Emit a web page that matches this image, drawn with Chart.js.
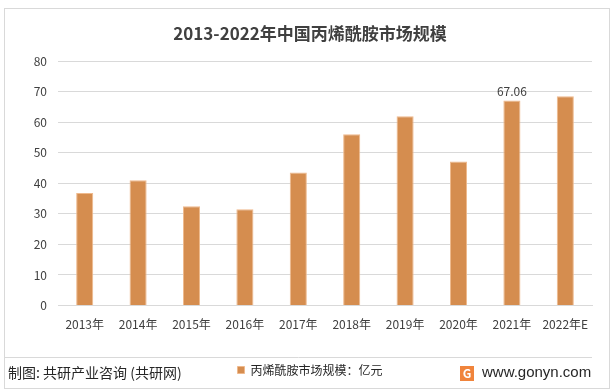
<!DOCTYPE html>
<html>
<head>
<meta charset="utf-8">
<script src="https://cdn.jsdelivr.net/npm/chart.js@4.4.0/dist/chart.umd.min.js"></script>
<style>
  html, body { margin: 0; padding: 0; background: #fff; }
  #wrap { position: relative; width: 614px; height: 392px; }
  #frame { position: absolute; left: 4px; top: 8px; width: 606px; height: 381px; border: 1px solid #d9d9d9; box-sizing: border-box; }
  canvas { position: absolute; left: 0; top: 0; }
</style>
</head>
<body>
<div id="wrap">
  <div id="frame"></div>
  <canvas id="chart" width="614" height="392"></canvas>
</div>
<script>
// Chart data
const years = ['2013年', '2014年', '2015年', '2016年', '2017年', '2018年', '2019年', '2020年', '2021年', '2022年E'];
const marketSize = [36.8, 41.0, 32.5, 31.5, 43.5, 56.0, 61.9, 47.1, 67.06, 68.5];
const labeledIndex = [8];
const seriesName = '丙烯酰胺市场规模：亿元';
const chartTitle = '2013-2022年中国丙烯酰胺市场规模';

const cjk = '"Noto Sans CJK SC", "Noto Sans", sans-serif';

// value label above selected bars
const valueLabels = {
  id: 'valueLabels',
  afterDatasetsDraw(chart) {
    const ctx = chart.ctx;
    const meta = chart.getDatasetMeta(0);
    ctx.save();
    ctx.font = '12px ' + cjk;
    ctx.fillStyle = '#404040';
    ctx.textAlign = 'center';
    ctx.textBaseline = 'bottom';
    labeledIndex.forEach(function(i) {
      const bar = meta.data[i];
      ctx.fillText(marketSize[i].toFixed(2), bar.x, bar.y - 3);
    });
    ctx.restore();
  }
};

// footer: separator, source note and site name
const footer = {
  id: 'footer',
  afterDraw(chart) {
    const ctx = chart.ctx;
    ctx.save();
    ctx.strokeStyle = '#d9d9d9';
    ctx.lineWidth = 1;
    ctx.beginPath();
    ctx.moveTo(5, 357.5);
    ctx.lineTo(592, 357.5);
    ctx.stroke();

    ctx.fillStyle = '#262626';
    ctx.font = '14px ' + cjk;
    ctx.textBaseline = 'middle';
    ctx.textAlign = 'left';
    ctx.fillText('制图: 共研产业咨询 (共研网)', 8, 373);

    // logo
    ctx.fillStyle = '#f0843c';
    ctx.fillRect(460, 366, 14, 15);
    ctx.fillStyle = '#fff';
    ctx.font = 'bold 12px ' + cjk;
    ctx.textAlign = 'center';
    ctx.fillText('G', 467, 373.5);

    ctx.fillStyle = '#262626';
    ctx.font = '15px "Liberation Sans", Arial, sans-serif';
    ctx.textAlign = 'left';
    ctx.fillText('www.gonyn.com', 482, 373);
    ctx.restore();
  }
};

new Chart(document.getElementById('chart'), {
  type: 'bar',
  data: {
    labels: years,
    datasets: [{
      label: seriesName,
      data: marketSize,
      backgroundColor: '#d58d4f',
      borderColor: '#efb98c',
      borderWidth: 1,
      categoryPercentage: 1,
      barPercentage: 0.32
    }]
  },
  options: {
    responsive: false,
    animation: false,
    layout: { padding: { left: 28, right: 22, top: 0, bottom: 6 } },
    plugins: {
      title: {
        display: true,
        text: chartTitle,
        color: '#404040',
        font: { family: cjk, size: 17, weight: 'bold' },
        padding: { top: 23, bottom: 17.6 }
      },
      legend: {
        position: 'bottom',
        labels: {
          boxWidth: 7,
          boxHeight: 7,
          color: '#262626',
          font: { family: cjk, size: 12 },
          padding: 12
        }
      },
      tooltip: { enabled: false }
    },
    scales: {
      x: {
        grid: { display: false },
        border: { color: '#d9d9d9' },
        afterFit: function(scale) { scale.height = 46.5; },
        ticks: {
          color: '#404040',
          font: { family: cjk, size: 12 },
          maxRotation: 0,
          padding: 4
        }
      },
      y: {
        min: 0,
        max: 80,
        afterFit: function(scale) { scale.width = 30; },
        ticks: {
          stepSize: 10,
          color: '#404040',
          font: { family: cjk, size: 12 },
          padding: 11
        },
        grid: { color: '#d9d9d9', drawTicks: false },
        border: { display: false }
      }
    }
  },
  plugins: [valueLabels, footer]
});
</script>
</body>
</html>
